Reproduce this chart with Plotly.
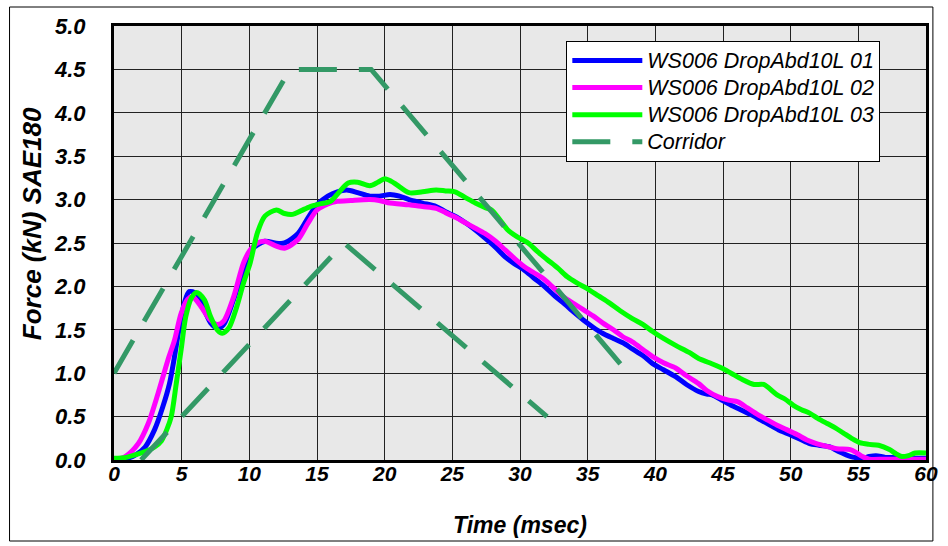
import plotly.graph_objects as go

# Abdominal drop-test force histories (time in msec, force in kN, SAE180 filtered)
t_01 = [0, 0.8, 1.6, 2.3, 3.0, 3.6, 4.1, 4.47, 4.84, 5.2, 5.56, 6.05, 6.66, 7.14, 7.63, 8.1,
        8.84, 9.57, 10.15, 11.15, 11.9, 12.6, 13.6, 14.3, 15.0, 15.8, 16.5, 17.2, 18.0, 18.9,
        19.6, 20.4, 21.1, 21.8, 22.8, 23.8, 24.5, 25.3, 26.0, 26.7, 27.4, 28.2, 28.9, 29.6,
        30.3, 31.0, 31.8, 32.5, 33.2, 34.0, 34.7, 35.4, 36.1, 36.9, 37.6, 38.3, 39.1, 39.8,
        40.6, 41.5, 42.3, 43.2, 43.8, 44.2, 44.9, 45.6, 46.3, 47.1, 47.8, 48.5, 49.2, 50.0,
        50.7, 51.4, 52.1, 52.9, 53.5, 54.1, 54.7, 55.3, 55.8, 56.3, 57.0, 57.8, 58.5, 60.0]
f_01 = [0.0, 0.01, 0.06, 0.15, 0.35, 0.61, 0.88, 1.19, 1.54, 1.81, 1.94, 1.92, 1.73, 1.58, 1.52, 1.56,
        1.85, 2.19, 2.42, 2.52, 2.50, 2.50, 2.61, 2.78, 2.94, 3.04, 3.09, 3.11, 3.08, 3.04,
        3.04, 3.06, 3.04, 3.00, 2.96, 2.92, 2.86, 2.80, 2.73, 2.65, 2.56, 2.45, 2.34, 2.26,
        2.19, 2.10, 2.00, 1.90, 1.81, 1.70, 1.61, 1.53, 1.46, 1.40, 1.35, 1.28, 1.20, 1.11,
        1.04, 0.96, 0.87, 0.79, 0.76, 0.75, 0.69, 0.63, 0.58, 0.52, 0.46, 0.40, 0.34, 0.29,
        0.24, 0.19, 0.17, 0.15, 0.10, 0.06, 0.03, 0.02, 0.04, 0.05, 0.03, 0.03, 0.02, 0.02]

t_02 = [0, 0.83, 1.8, 2.53, 3.26, 3.98, 4.47, 4.96, 5.44, 5.8, 6.42, 7.02, 7.63, 8.1, 8.84,
        9.57, 10.06, 10.6, 11.15, 11.9, 12.6, 13.6, 14.3, 15.0, 15.8, 16.5, 17.5, 18.9, 19.6,
        20.4, 21.1, 21.8, 22.8, 23.8, 24.5, 25.3, 26.0, 26.7, 27.4, 28.2, 28.9, 29.6, 30.3,
        31.0, 31.8, 32.5, 33.2, 34.0, 34.7, 35.4, 36.1, 36.9, 37.6, 38.3, 39.1, 39.8, 40.6,
        41.5, 42.3, 43.2, 43.8, 44.6, 45.4, 46.1, 46.8, 47.6, 48.3, 49.0, 49.7, 50.5, 51.2,
        51.9, 52.6, 53.4, 54.4, 54.9, 55.3, 55.8, 57.0, 60.0]
f_02 = [0.0, 0.04, 0.19, 0.42, 0.77, 1.15, 1.38, 1.69, 1.85, 1.88, 1.77, 1.63, 1.56, 1.60, 1.88,
        2.27, 2.42, 2.50, 2.52, 2.47, 2.44, 2.54, 2.72, 2.88, 2.95, 2.98, 2.99, 3.00, 2.99,
        2.96, 2.95, 2.94, 2.92, 2.90, 2.85, 2.79, 2.73, 2.67, 2.61, 2.52, 2.42, 2.32, 2.23,
        2.16, 2.08, 1.98, 1.88, 1.80, 1.73, 1.66, 1.58, 1.50, 1.42, 1.36, 1.27, 1.19, 1.12,
        1.06, 0.97, 0.88, 0.80, 0.73, 0.69, 0.67, 0.60, 0.52, 0.46, 0.40, 0.35, 0.29, 0.23,
        0.19, 0.16, 0.13, 0.12, 0.08, 0.04, 0.01, 0.01, 0.01]

t_03 = [0, 0.9, 1.8, 2.5, 3.0, 3.5, 3.9, 4.23, 4.6, 4.96, 5.3, 5.73, 6.1, 6.66, 7.14, 7.63,
        8.0, 8.48, 9.08, 9.57, 10.06, 10.6, 11.15, 12.0, 12.6, 13.2, 13.8, 14.5, 15.2, 16.0,
        16.6, 17.3, 18.0, 18.9, 19.5, 20.0, 20.5, 20.9, 21.8, 22.8, 23.8, 24.5, 25.2, 26.0,
        26.7, 27.4, 27.9, 28.5, 29.1, 29.8, 30.6, 31.3, 32.0, 32.8, 33.5, 34.2, 34.9, 35.8,
        36.6, 37.4, 38.3, 39.1, 39.8, 40.6, 41.5, 42.5, 43.2, 44.0, 44.9, 45.6, 46.4, 47.3,
        48.0, 49.0, 49.6, 50.2, 50.8, 51.4, 52.0, 52.7, 53.3, 53.9, 54.5, 55.1, 55.8, 56.5,
        57.3, 57.8, 58.2, 58.7, 59.2, 60.0]
f_03 = [0.02, 0.03, 0.07, 0.11, 0.15, 0.22, 0.35, 0.50, 0.88, 1.27, 1.65, 1.87, 1.93, 1.85, 1.65, 1.50,
        1.46, 1.52, 1.77, 2.04, 2.27, 2.62, 2.81, 2.88, 2.84, 2.83, 2.87, 2.92, 2.95, 2.98,
        3.08, 3.19, 3.20, 3.16, 3.20, 3.24, 3.21, 3.17, 3.08, 3.09, 3.11, 3.10, 3.09, 3.02,
        2.96, 2.91, 2.88, 2.77, 2.65, 2.57, 2.50, 2.40, 2.31, 2.21, 2.11, 2.04, 1.98, 1.89,
        1.81, 1.72, 1.63, 1.56, 1.48, 1.40, 1.32, 1.24, 1.17, 1.12, 1.06, 1.00, 0.93, 0.87,
        0.87, 0.75, 0.70, 0.63, 0.58, 0.54, 0.48, 0.42, 0.37, 0.31, 0.25, 0.20, 0.18, 0.17,
        0.12, 0.07, 0.04, 0.05, 0.08, 0.08]

# Corridor bounds
corr_up_t = [0, 13, 19, 38]
corr_up_f = [1.0, 4.5, 4.5, 1.0]
corr_lo_t = [2, 17, 32]
corr_lo_f = [0.0, 2.5, 0.5]

names = ["WS006 DropAbd10L 01", "WS006 DropAbd10L 02", "WS006 DropAbd10L 03", "Corridor"]
x_ticks = list(range(0, 61, 5))
y_ticks = [i * 0.5 for i in range(11)]
y_tick_text = [f"{v:.1f}" for v in y_ticks]
x_title = "Time (msec)"
y_title = "Force (kN) SAE180"

W, H = 948, 546
ML, MR, MT, MB = 114, 10, 26, 86
FONT = "Liberation Sans, Arial, sans-serif"
CORR_COLOR = "#339966"


def legend_label(text):
    # larger glyphs than the legend row pitch so the rows stay compact
    return f"<span style='font-size:21.5px'>{text}</span>"


fig = go.Figure()
for t, f, name, color in [(t_01, f_01, names[0], "#0000FF"),
                          (t_02, f_02, names[1], "#FF00FF"),
                          (t_03, f_03, names[2], "#00FF00")]:
    fig.add_trace(go.Scatter(x=t, y=f, name=legend_label(name), mode="lines",
                             line=dict(color=color, width=5, shape="spline", smoothing=0.8)))

fig.add_trace(go.Scatter(x=corr_up_t, y=corr_up_f, name=legend_label(names[3]), mode="lines",
                         legendgroup="corr",
                         line=dict(color=CORR_COLOR, width=5, dash="38px,22px")))
fig.add_trace(go.Scatter(x=corr_lo_t, y=corr_lo_f, name=legend_label(names[3]), mode="lines",
                         legendgroup="corr", showlegend=False,
                         line=dict(color=CORR_COLOR, width=5, dash="38px,22px")))

plot_w = W - ML - MR
plot_h = H - MT - MB


def px_x(p):
    return (p - ML) / plot_w


def px_y(p):
    return 1 - (p - MT) / plot_h


# thin frame around the whole figure
fig.add_shape(type="rect", xref="paper", yref="paper",
              x0=px_x(8), x1=px_x(945), y0=px_y(541), y1=px_y(7),
              line=dict(color="black", width=1), layer="above")

# vertical axis title
fig.add_annotation(text=y_title, xref="paper", yref="paper",
                   x=px_x(31), y=px_y(224), xanchor="center", yanchor="middle",
                   textangle=-90, showarrow=False,
                   font=dict(family=FONT, size=26, weight="bold", style="italic", color="black"))

fig.update_layout(
    width=W, height=H,
    margin=dict(l=ML, r=MR, t=MT, b=MB),
    paper_bgcolor="white",
    plot_bgcolor="#E8E8E8",
    font=dict(family=FONT, color="black"),
    showlegend=True,
    legend=dict(
        x=px_x(573), y=px_y(41), xanchor="left", yanchor="top",
        bgcolor="white", bordercolor="black", borderwidth=1,
        font=dict(family=FONT, size=18.5, style="italic", color="black"),
        itemwidth=70, tracegroupgap=0,
    ),
    xaxis=dict(
        range=[0, 60], tickvals=x_ticks, ticktext=[str(v) for v in x_ticks],
        showgrid=True, gridcolor="#222222", gridwidth=1,
        showline=True, linecolor="black", linewidth=3, mirror=True,
        zeroline=False, ticks="", ticklabelstandoff=-7,
        tickfont=dict(family=FONT, size=21, weight="bold", style="italic"),
        title=dict(text=x_title, standoff=33,
                   font=dict(family=FONT, size=23, weight="bold", style="italic")),
    ),
    yaxis=dict(
        range=[0, 5], tickvals=y_ticks, ticktext=y_tick_text,
        showgrid=True, gridcolor="#222222", gridwidth=1,
        showline=True, linecolor="black", linewidth=3, mirror=True,
        zeroline=False, ticks="", ticklabelstandoff=21,
        tickfont=dict(family=FONT, size=22, weight="bold", style="italic"),
    ),
)

fig.write_html("out.html")
